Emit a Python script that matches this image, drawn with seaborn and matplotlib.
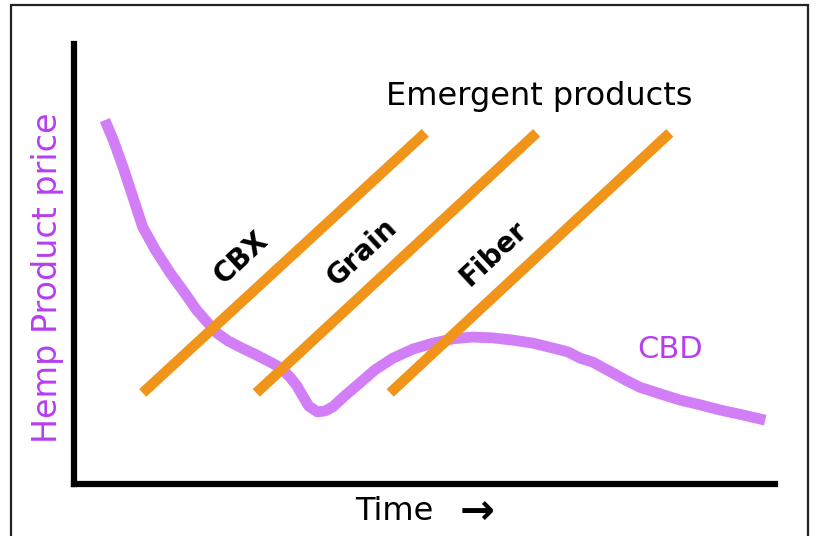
"""Hemp product price over time: CBD decline vs emergent products."""

import matplotlib
matplotlib.use("Agg")
import matplotlib.pyplot as plt
from matplotlib.patches import Rectangle
import seaborn as sns
import pandas as pd

# CBD price curve (time 0-100, price 0-100)
cbd_time = [4.4, 5.6, 7.0, 8.3, 9.8, 11.6, 13.7, 15.8, 17.5, 19.0, 20.4, 22.0,
            23.7, 25.8, 28.0, 29.5, 30.8, 31.8, 32.7, 33.5, 34.7, 35.8, 36.9,
            38.6, 40.8, 42.9, 45.5, 48.4, 51.2, 54.1, 56.9, 59.8, 62.6, 65.5,
            68.3, 70.5, 72.2, 74.0, 75.5, 76.9, 78.7, 80.7, 83.6, 86.4, 89.3,
            92.2, 95.4, 98.6]
cbd_price = [82.7, 78.2, 72.0, 65.7, 58.4, 53.2, 48.0, 43.4, 39.5, 36.8, 34.3, 32.5,
             31.1, 29.5, 27.7, 26.4, 24.3, 22.3, 19.8, 17.7, 16.4, 16.6, 17.5,
             20.0, 23.0, 25.9, 28.6, 30.7, 32.0, 33.0, 33.4, 33.2, 32.7, 32.0,
             30.9, 30.0, 28.6, 27.7, 26.4, 25.2, 23.6, 22.0, 20.5, 19.1, 18.0,
             16.8, 15.7, 14.5]

# emergent product lines: start/end time, start/end price
products = ["CBX", "Grain", "Fiber"]
start_time = [9.8, 26.0, 45.1]
end_time = [50.1, 66.0, 85.0]
start_price = [20.7, 20.7, 20.7]
end_price = [79.8, 79.8, 79.8]
label_time = [23.8, 41.1, 59.9]
label_price = [51.4, 52.7, 52.3]

CBD_COLOR = "#d17ef7"
CBD_TEXT = "#b63ef0"
ORANGE = "#f0951a"

sns.set_style("white")
plt.rcParams["font.family"] = ["DejaVu Sans"]
plt.rcParams["text.color"] = "black"

fig = plt.figure(figsize=(8.16, 5.36), dpi=100)
ax = fig.add_axes([74 / 816, 52 / 536, 701 / 816, 440 / 536])

cbd = pd.DataFrame({"time": cbd_time, "price": cbd_price})
sns.lineplot(data=cbd, x="time", y="price", sort=False, color=CBD_COLOR,
             linewidth=7.8, ax=ax, solid_capstyle="butt", solid_joinstyle="round")

for name, x0, x1, y0, y1, lx, ly in zip(products, start_time, end_time,
                                         start_price, end_price, label_time, label_price):
    seg = pd.DataFrame({"time": [x0, x1], "price": [y0, y1]})
    sns.lineplot(data=seg, x="time", y="price", color=ORANGE, linewidth=7.5,
                 ax=ax, solid_capstyle="butt")
    ax.text(lx, ly, name, rotation=43, ha="center", va="center",
            fontsize=20, fontweight="bold", rotation_mode="anchor", color="black")

ax.text(66.3, 88.0, "Emergent products", ha="center", va="center",
        fontsize=23, color="black")
ax.text(85.0, 30.5, "CBD", ha="center", va="center", fontsize=22, color=CBD_TEXT)

ax.set_xlim(0, 100)
ax.set_ylim(0, 100)
ax.set_xticks([])
ax.set_yticks([])
ax.set_xlabel("")
ax.set_ylabel("")
ax.spines["top"].set_visible(False)
ax.spines["right"].set_visible(False)
for side in ["left", "bottom"]:
    ax.spines[side].set_linewidth(4.5)
    ax.spines[side].set_color("black")

fig.text(48 / 816, 1 - 278 / 536, "Hemp Product price", rotation=90,
         ha="center", va="center", fontsize=24, color=CBD_TEXT)
fig.text(394 / 816, 1 - 512 / 536, "Time", ha="center", va="center",
         fontsize=23, color="black")
fig.text(477 / 816, 1 - 512 / 536, "\u2192", ha="center", va="center",
         fontsize=30, fontweight="bold", color="black")

# slide frame
fig.patches.append(Rectangle((11 / 816, -0.02), 797 / 816, 1.02 - 5 / 536,
                             transform=fig.transFigure, fill=False,
                             edgecolor="#222222", linewidth=1.6))

plt.savefig("out.png", dpi=100)
plt.close()
